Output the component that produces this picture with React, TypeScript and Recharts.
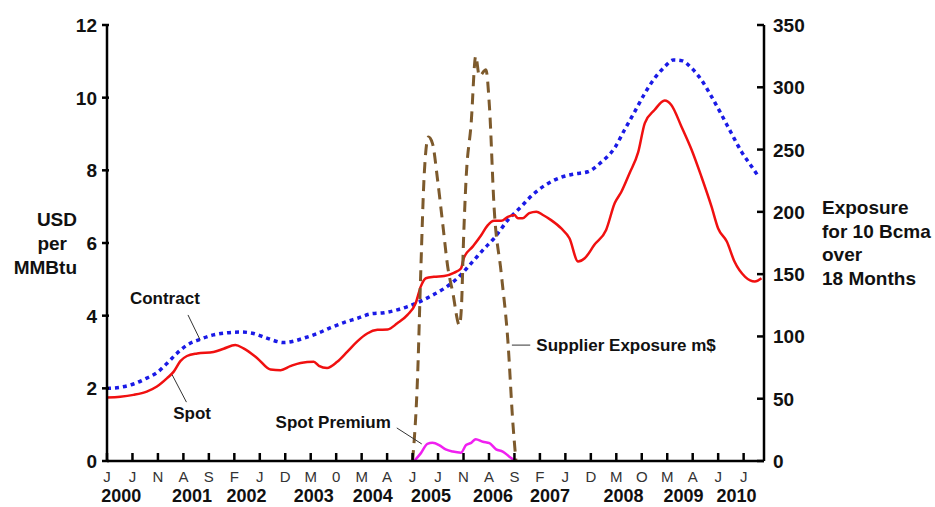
import React from 'react';
import { ComposedChart, Line, XAxis, YAxis, ReferenceLine, ReferenceDot } from 'recharts';

const FONT = '"Liberation Sans", Arial, Helvetica, sans-serif';

// months since Jan 2000
const monthTicks = [0, 5, 10, 15, 20, 25, 30, 35, 40, 45, 50, 55, 60, 65, 70, 75, 80, 85, 90, 95, 100, 105, 110, 115, 120, 125];
const monthLabels = ['J', 'J', 'N', 'A', 'S', 'F', 'J', 'D', 'M', '0', 'M', 'A', 'J', 'J', 'N', 'A', 'S', 'F', 'J', 'D', 'M', 'O', 'M', 'A', 'J', 'J'];
const yearTicks = [2.8, 16.7, 27.4, 40.6, 52.2, 63.6, 75.8, 87.0, 101.4, 113.2, 123.6];
const yearLabels = ['2000', '2001', '2002', '2003', '2004', '2005', '2006', '2007', '2008', '2009', '2010'];
const leftTicks = [0, 2, 4, 6, 8, 10, 12];
const rightTicks = [0, 50, 100, 150, 200, 250, 300, 350];

// USD per MMBtu
const spot: [number, number][] = [
  [0, 1.75], [2.6, 1.77], [5.2, 1.82], [7.8, 1.91], [9.8, 2.05], [11.8, 2.28], [13.1, 2.46], [14.4, 2.75],
  [15.7, 2.89], [17.7, 2.96], [20.9, 3.0], [22.9, 3.09], [25.2, 3.19], [26.8, 3.1], [29.5, 2.83], [32.1, 2.52],
  [34.1, 2.5], [36.0, 2.61], [38.0, 2.7], [40.6, 2.73], [41.6, 2.62], [43.2, 2.56], [45.2, 2.73], [47.2, 3.01],
  [49.2, 3.3], [51.1, 3.51], [53.1, 3.61], [55.1, 3.62], [57.0, 3.79], [59.0, 4.02], [60.6, 4.34], [61.6, 4.8],
  [62.6, 5.03], [64.2, 5.07], [66.2, 5.09], [68.1, 5.18], [69.5, 5.3], [70.1, 5.6], [71.8, 5.9], [73.4, 6.2],
  [74.7, 6.48], [76.0, 6.61], [77.4, 6.61], [78.7, 6.72], [80.0, 6.77], [80.7, 6.68], [81.6, 6.68], [82.9, 6.82],
  [84.3, 6.86], [85.6, 6.77], [87.2, 6.63], [89.2, 6.4], [90.8, 6.13], [92.5, 5.49], [93.8, 5.58], [95.7, 5.95],
  [98.0, 6.36], [99.7, 7.1], [101.0, 7.41], [102.6, 7.92], [104.3, 8.5], [105.6, 9.3], [107.5, 9.66], [109.5, 9.92],
  [110.8, 9.8], [112.8, 9.2], [114.8, 8.56], [116.7, 7.83], [118.7, 7.0], [120.0, 6.4], [121.7, 6.04], [123.2, 5.49],
  [125.3, 5.07], [127.2, 4.94], [128.5, 5.03],
];

const contract: [number, number][] = [
  [0, 2.0], [2.6, 2.03], [5.2, 2.12], [7.8, 2.28], [9.8, 2.43], [11.8, 2.69], [13.7, 2.96], [15.7, 3.19],
  [18.3, 3.35], [20.9, 3.47], [23.6, 3.53], [26.2, 3.55], [28.8, 3.51], [31.4, 3.38], [34.7, 3.26], [36.7, 3.3],
  [38.6, 3.38], [41.3, 3.51], [43.9, 3.67], [46.5, 3.81], [49.2, 3.93], [51.8, 4.05], [54.4, 4.08], [57.0, 4.16],
  [59.0, 4.25], [61.0, 4.36], [63.6, 4.54], [66.2, 4.75], [68.8, 5.03], [71.5, 5.44], [74.1, 5.85], [76.0, 6.13],
  [78.7, 6.63], [81.3, 7.0], [83.9, 7.37], [86.6, 7.64], [89.2, 7.81], [91.8, 7.9], [94.4, 7.96], [97.0, 8.22],
  [99.7, 8.62], [101.6, 9.11], [103.6, 9.61], [105.6, 10.12], [107.5, 10.53], [109.5, 10.85], [111.2, 11.04],
  [112.8, 11.02], [114.8, 10.81], [116.7, 10.49], [118.7, 10.03], [120.7, 9.52], [122.6, 9.02], [124.6, 8.51],
  [126.6, 8.1], [127.9, 7.83],
];

// USD per MMBtu
const premium: [number, number][] = [
  [60.3, 0], [61.6, 0.21], [62.9, 0.47], [63.9, 0.5], [65.2, 0.44], [66.5, 0.32], [67.9, 0.26], [69.5, 0.23],
  [70.5, 0.44], [71.5, 0.5], [72.4, 0.6], [73.8, 0.53], [75.1, 0.49], [76.4, 0.32], [77.7, 0.26], [79.0, 0.12],
  [80.2, 0],
];

// m$ (right axis)
const exposure: [number, number][] = [
  [60.0, 0], [61.0, 70], [61.6, 151], [62.3, 231], [63.1, 260], [63.9, 255], [64.9, 226], [65.9, 191],
  [66.9, 156], [67.9, 135], [69.2, 109], [69.6, 124], [70.0, 177], [70.5, 226], [71.5, 271], [72.4, 325],
  [73.1, 309], [74.4, 314], [75.1, 284], [76.0, 204], [77.4, 151], [78.7, 97], [79.7, 30], [80.3, 0],
];

const toRows = (arr: [number, number][]) => arr.map(([m, v]) => ({ m, v }));

const allXTicks = [...monthTicks, ...yearTicks].sort((a, b) => a - b);

const XTick = (props: any) => {
  const { x, y, payload } = props;
  const mi = monthTicks.indexOf(payload.value);
  if (mi >= 0) {
    return (
      <g>
        <line x1={x} x2={x} y1={y - 8} y2={y} stroke="#000" strokeWidth={2.5} />
        <text x={x} y={y + 21} textAnchor="middle" fontFamily={FONT} fontSize={15} fill="#333">
          {monthLabels[mi]}
        </text>
      </g>
    );
  }
  const yi = yearTicks.indexOf(payload.value);
  return (
    <text x={x} y={y + 41} textAnchor="middle" fontFamily={FONT} fontSize={18} fontWeight="bold" fill="#111">
      {yearLabels[yi]}
    </text>
  );
};

const LeftTick = (props: any) => {
  const { x, y, payload } = props;
  return (
    <g>
      <line x1={x - 5} x2={x + 2} y1={y} y2={y} stroke="#000" strokeWidth={2.5} />
      <text x={x - 10} y={y + 7} textAnchor="end" fontFamily={FONT} fontSize={19} fontWeight="bold" fill="#111">
        {payload.value}
      </text>
    </g>
  );
};

const RightTick = (props: any) => {
  const { x, y, payload } = props;
  return (
    <g>
      <line x1={x - 7} x2={x} y1={y} y2={y} stroke="#000" strokeWidth={2.5} />
      <text x={x + 9} y={y + 7} textAnchor="start" fontFamily={FONT} fontSize={19} fontWeight="bold" fill="#111">
        {payload.value}
      </text>
    </g>
  );
};

const LeftTitle = (props: any) => {
  const vb = props.viewBox;
  const cy = vb.y + vb.height / 2;
  const xr = vb.x + 77;
  const st = { fontFamily: FONT, fontSize: 19, fontWeight: 'bold' as const, fill: '#111' };
  return (
    <g>
      <text x={xr} y={cy - 17} textAnchor="end" {...st}>USD</text>
      <text x={xr - 10} y={cy + 7} textAnchor="end" {...st}>per</text>
      <text x={xr} y={cy + 31} textAnchor="end" {...st}>MMBtu</text>
    </g>
  );
};

const RightTitle = (props: any) => {
  const vb = props.viewBox;
  const x0 = vb.x + 58;
  const cy = vb.y + vb.height / 2;
  const st = { fontFamily: FONT, fontSize: 19, fontWeight: 'bold' as const, fill: '#111' };
  return (
    <g>
      <text x={x0} y={cy - 29} {...st}>Exposure</text>
      <text x={x0} y={cy - 5.5} {...st}>for 10 Bcma</text>
      <text x={x0} y={cy + 18} {...st}>over</text>
      <text x={x0} y={cy + 41.5} {...st}>18 Months</text>
    </g>
  );
};

const annot = (label: string) => (p: any) => (
  <text x={p.cx} y={p.cy} fontFamily={FONT} fontSize={17} fontWeight="bold" fill="#111">
    {label}
  </text>
);

// annotation anchors (data coordinates on left axis)
const annotations = [
  { m: 4.5, v: 4.32, text: 'Contract' },
  { m: 13.0, v: 1.16, text: 'Spot' },
  { m: 33.1, v: 0.91, text: 'Spot Premium' },
  { m: 84.3, v: 3.03, text: 'Supplier Exposure m$' },
];
const leaders = [
  [[15.9, 4.02], [18.3, 3.33]],
  [[12.8, 2.37], [15.6, 1.62]],
  [[56.9, 0.91], [61.8, 0.47]],
  [[79.5, 3.19], [83.1, 3.19]],
];

export default function App() {
  return (
    <div style={{ position: 'absolute', left: 0, top: 0, width: 935, height: 507, background: '#fff' }}>
      <ComposedChart width={935} height={507} margin={{ top: 25, right: 0, bottom: 0, left: 0 }}>
        <XAxis
          xAxisId="m"
          dataKey="m"
          type="number"
          domain={[0, 129]}
          ticks={allXTicks}
          interval={0}
          height={46}
          tickSize={0}
          tickMargin={0}
          tickLine={false}
          axisLine={{ stroke: '#000', strokeWidth: 2.5 }}
          tick={<XTick />}
          allowDataOverflow
        />
        <YAxis
          yAxisId="left"
          orientation="left"
          width={107}
          domain={[0, 12]}
          ticks={leftTicks}
          interval={0}
          tickSize={0}
          tickMargin={0}
          tickLine={false}
          axisLine={{ stroke: '#000', strokeWidth: 2.5 }}
          tick={<LeftTick />}
          label={{ content: <LeftTitle /> }}
        />
        <YAxis
          yAxisId="right"
          orientation="right"
          width={171}
          domain={[0, 350]}
          ticks={rightTicks}
          interval={0}
          tickSize={0}
          tickMargin={0}
          tickLine={false}
          axisLine={{ stroke: '#000', strokeWidth: 2.5 }}
          tick={<RightTick />}
          label={{ content: <RightTitle /> }}
        />
        <Line
          xAxisId="m"
          yAxisId="left"
          data={toRows(contract)}
          dataKey="v"
          type="monotone"
          stroke="#1a1ae6"
          strokeWidth={3.5}
          strokeDasharray="4 4"
          dot={false}
          isAnimationActive={false}
        />
        <Line
          xAxisId="m"
          yAxisId="left"
          data={toRows(spot)}
          dataKey="v"
          type="monotone"
          stroke="#f01010"
          strokeWidth={2.5}
          dot={false}
          isAnimationActive={false}
        />
        <Line
          xAxisId="m"
          yAxisId="right"
          data={toRows(exposure)}
          dataKey="v"
          type="monotone"
          stroke="#7d5a2c"
          strokeWidth={3}
          strokeDasharray="11 7"
          dot={false}
          isAnimationActive={false}
        />
        <Line
          xAxisId="m"
          yAxisId="left"
          data={toRows(premium)}
          dataKey="v"
          type="monotone"
          stroke="#f020f0"
          strokeWidth={2.5}
          dot={false}
          isAnimationActive={false}
        />
        {leaders.map((seg, i) => (
          <ReferenceLine
            key={'l' + i}
            xAxisId="m"
            yAxisId="left"
            segment={[{ x: seg[0][0], y: seg[0][1] }, { x: seg[1][0], y: seg[1][1] }]}
            stroke="#333"
            strokeWidth={1}
          />
        ))}
        {annotations.map((a, i) => (
          <ReferenceDot
            key={'a' + i}
            xAxisId="m"
            yAxisId="left"
            x={a.m}
            y={a.v}
            r={0}
            shape={annot(a.text)}
          />
        ))}
      </ComposedChart>
    </div>
  );
}
